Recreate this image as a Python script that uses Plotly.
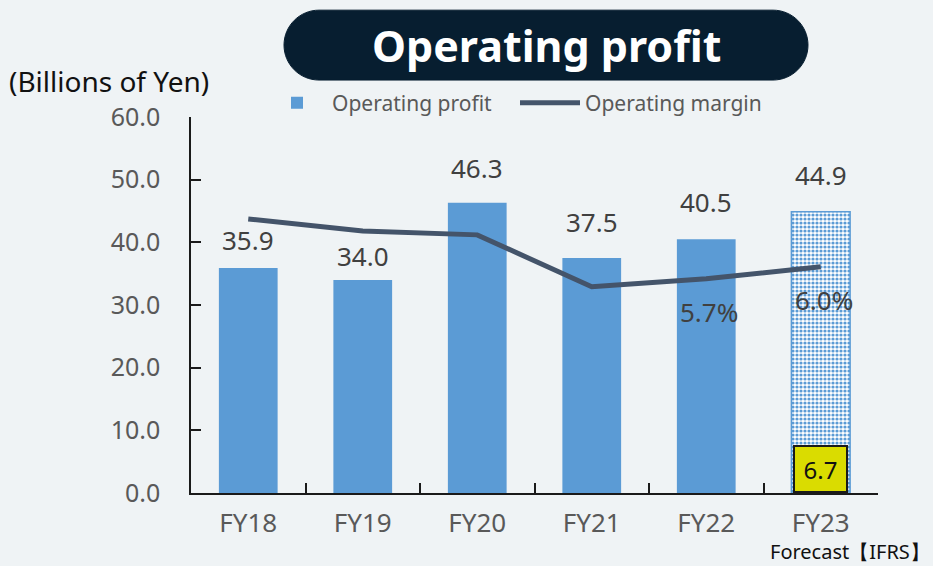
import plotly.graph_objects as go

# ---- data ----
categories = ["FY18", "FY19", "FY20", "FY21", "FY22", "FY23"]
operating_profit = [35.9, 34.0, 46.3, 37.5, 40.5, 44.9]
operating_margin = [7.2, 6.9, 6.8, 5.5, 5.7, 6.0]
margin_labels = ["", "", "", "", "5.7%", "6.0%"]
fy23_first_quarter = 6.7
y_ticks = [0, 10, 20, 30, 40, 50, 60]

W, H = 933, 566
L, R, T, B = 191, 55, 117, 72.5
PW, PH = W - L - R, H - T - B

def px2paper(x, y):
    return (x - L) / PW, (H - B - y) / PH

BG = "#EFF3F5"
BAR = "#5B9BD5"
LINE = "#44546A"
FONT = "Noto Sans, Open Sans, sans-serif"

# vertical offsets (px) of the value labels above the bar tops (style only)
label_shift = [8, 4, 15, 16, 17, 17]

fig = go.Figure()

n = len(categories)
shapes_pattern = [""] * (n - 1) + ["."]
line_w = [0] * (n - 1) + [1.5]

fig.add_trace(go.Bar(
    x=categories, y=operating_profit, name="Operating profit",
    marker=dict(
        color=BAR,
        line=dict(color=BAR, width=line_w),
        pattern=dict(shape=shapes_pattern, fgcolor=BAR, bgcolor="white",
                     size=4, solidity=0.5, fillmode="replace"),
    ),
    hoverinfo="skip",
))

fig.add_trace(go.Scatter(
    x=categories, y=operating_margin, name="Operating margin",
    yaxis="y2", mode="lines",
    line=dict(color=LINE, width=5),
    hoverinfo="skip",
))

annotations = []
# value labels above bars
for c, v, s in zip(categories, operating_profit, label_shift):
    annotations.append(dict(
        x=c, y=v, xref="x", yref="y", text=f"{v:.1f}", showarrow=False,
        yanchor="bottom", yshift=s, font=dict(size=26, color="#404040", family=FONT)))
# margin labels
for c, v, t in zip(categories, operating_margin, margin_labels):
    if t:
        annotations.append(dict(
            x=c, y=v, xref="x", yref="y2", text=t, showarrow=False,
            yanchor="middle", yshift=-33, xshift=3,
            font=dict(size=26, color="#404040", family=FONT)))
# forecast Q1 box
annotations.append(dict(
    x=categories[-1], y=0, xref="x", yref="y", text=f"{fy23_first_quarter:.1f}",
    showarrow=False, yanchor="bottom", xanchor="center", width=51, height=44,
    bgcolor="#DADC00", bordercolor="#1A1A1A", borderwidth=2, borderpad=0,
    font=dict(size=24, color="#111111", family=FONT)))
# unit label
ux, uy = px2paper(7, 81)
annotations.append(dict(
    x=ux, y=uy, xref="paper", yref="paper", text="(Billions of Yen)",
    showarrow=False, xanchor="left", yanchor="middle",
    font=dict(size=28, color="#111111", family=FONT)))
# forecast note
fx, fy = px2paper(932, 552)
annotations.append(dict(
    x=fx, y=fy, xref="paper", yref="paper", text="Forecast【IFRS】",
    showarrow=False, xanchor="right", yanchor="middle",
    font=dict(size=20, color="#111111", family=FONT)))
# title
tx, ty = px2paper(546, 45)
annotations.append(dict(
    x=tx, y=ty, xref="paper", yref="paper", text="<b>Operating profit</b>",
    showarrow=False, xanchor="center", yanchor="middle",
    font=dict(size=43, color="white", family=FONT)))

# rounded title box path
x0, x1, y0, y1 = 284, 808, 10, 80
r = (y1 - y0) / 2
k = 0.5523 * r
def P(x, y):
    px, py = px2paper(x, y)
    return f"{px:.5f},{py:.5f}"
path = (
    f"M {P(x0 + r, y0)} L {P(x1 - r, y0)} "
    f"C {P(x1 - r + k, y0)} {P(x1, y0 + r - k)} {P(x1, y0 + r)} "
    f"C {P(x1, y0 + r + k)} {P(x1 - r + k, y1)} {P(x1 - r, y1)} "
    f"L {P(x0 + r, y1)} "
    f"C {P(x0 + r - k, y1)} {P(x0, y0 + r + k)} {P(x0, y0 + r)} "
    f"C {P(x0, y0 + r - k)} {P(x0 + r - k, y0)} {P(x0 + r, y0)} Z"
)
shapes = [dict(type="path", xref="paper", yref="paper", path=path,
               fillcolor="#071E30", line=dict(color="#071E30", width=1), layer="below")]

lx, ly = px2paper(262, 103)

fig.update_layout(
    width=W, height=H,
    margin=dict(l=L, r=R, t=T, b=B, autoexpand=False),
    paper_bgcolor=BG, plot_bgcolor=BG,
    bargap=0.487,
    showlegend=True,
    legend=dict(orientation="h", x=lx, y=ly, xanchor="left", yanchor="middle",
                font=dict(size=21, color="#595959", family=FONT),
                bgcolor="rgba(0,0,0,0)", itemwidth=60, tracegroupgap=0,
                entrywidth=178, entrywidthmode="pixels"),
    xaxis=dict(
        type="category", showgrid=False, showline=True, linecolor="#1A1A1A",
        linewidth=1.5, ticks="inside", tickson="boundaries", ticklen=10,
        tickcolor="#1A1A1A", tickwidth=1.5,
        tickfont=dict(size=26, color="#595959", family=FONT),
        ticklabelstandoff=6,
    ),
    yaxis=dict(
        range=[0, 60], tickvals=y_ticks, ticktext=[f"{v:.1f}" for v in y_ticks],
        showgrid=False, zeroline=False, showline=True, linecolor="#1A1A1A",
        linewidth=1.5, ticks="inside", ticklen=10, tickcolor="#1A1A1A",
        tickwidth=1.5, tickfont=dict(size=25, color="#595959", family=FONT),
        ticklabelstandoff=24,
    ),
    yaxis2=dict(
        overlaying="y", side="right", range=[0.34, 9.75], visible=False,
        showgrid=False, zeroline=False,
    ),
    annotations=annotations,
    shapes=shapes,
)

fig.write_html(
    "out.html",
    config={"displayModeBar": False},
    post_script="document.body.style.margin='0px';document.body.style.background='%s';" % BG,
)
